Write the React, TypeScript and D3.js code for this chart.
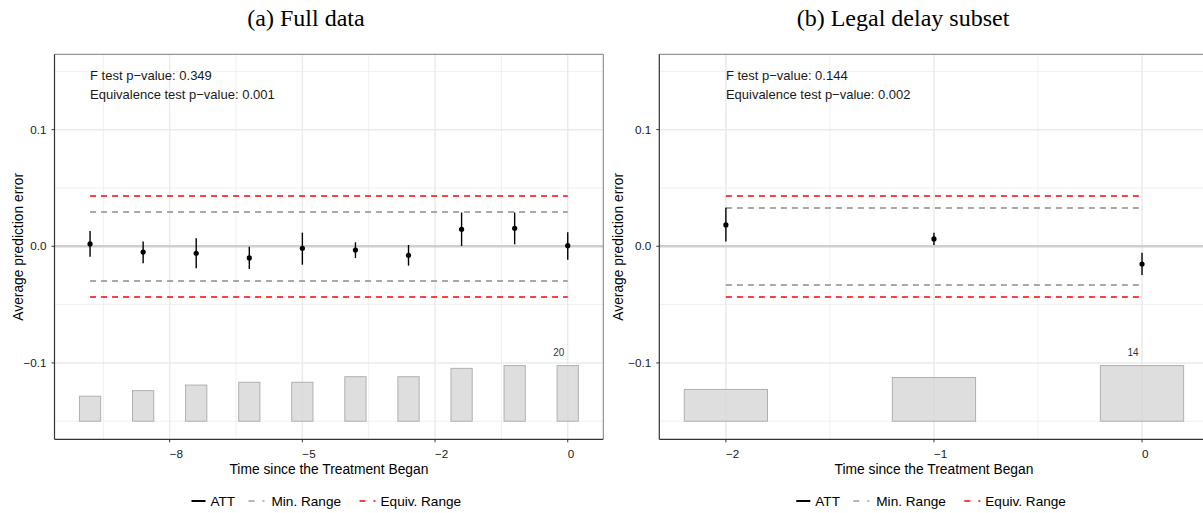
import * as d3 from 'd3'

// full data panel
const fullIndex = [1, 2, 3, 4, 5, 6, 7, 8, 9, 10]
const fullAtt = [0.002, -0.005, -0.006, -0.01, -0.0017, -0.0032, -0.0077, 0.0146, 0.0154, 0.0005]
const fullLower = [-0.009, -0.0146, -0.0189, -0.0195, -0.0158, -0.01, -0.0166, 0.0003, 0.0017, -0.0115]
const fullUpper = [0.013, 0.004, 0.0069, -0.0003, 0.0117, 0.0034, 0.0011, 0.029, 0.029, 0.012]
const fullCounts = [9, 11, 13, 14, 14, 16, 16, 19, 20, 20]
const fullTicks = [2.5, 5, 7.5, 10]
const fullTickLabels = ['−8', '−5', '−2', '0']
const fullMinorX = [1.25, 3.75, 6.25, 8.75]

// legal delay subset panel
const subIndex = [1, 2, 3]
const subAtt = [0.0183, 0.0063, -0.0152]
const subLower = [0.004, 0.0011, -0.0246]
const subUpper = [0.033, 0.0117, -0.0055]
const subCounts = [8, 11, 14]
const subTicks = [1, 2, 3]
const subTickLabels = ['−2', '−1', '0']
const subMinorX = [1.5, 2.5]

const yTicks = [-0.1, 0, 0.1]
const yTickLabels = ['−0.1', '0.0', '0.1']
const yMinor = [-0.15, -0.05, 0.05, 0.15]

const legendItems = ['ATT', 'Min. Range', 'Equiv. Range']

const sans = 'Liberation Sans, Arial, Helvetica, sans-serif'
const top = 54.3
const bottom = 439.3
const barBase = -0.15
const barMaxHeight = 0.0477

const yScale = d3.scaleLinear().domain([-0.1655, 0.1646]).range([bottom, top])

type PanelProps = {
  title: string
  titleX: number
  yTitleGap: number
  left: number
  right: number
  domain: [number, number]
  index: number[]
  att: number[]
  lower: number[]
  upper: number[]
  counts: number[]
  ticks: number[]
  tickLabels: string[]
  minorX: number[]
  equiv: number
  minRange: number
  fTest: string
  eqTest: string
}

const Panel = (p: PanelProps) => {
  const x = d3.scaleLinear().domain(p.domain).range([p.left, p.right])
  const bw = x(1.2) - x(0.8)
  const maxCount = d3.max(p.counts) as number
  const barTop = (c: number) => barBase + (c / maxCount) * barMaxHeight
  const first = p.index[0]
  const last = p.index[p.index.length - 1]
  const lastI = p.index.length - 1
  const legendX = p.left + 137
  const dashes = [
    { v: p.minRange, c: '#8c8c8c' },
    { v: -p.minRange, c: '#8c8c8c' },
    { v: p.equiv, c: '#ff0000' },
    { v: -p.equiv, c: '#ff0000' },
  ]
  return (
    <g>
      <text x={p.titleX} y={26} textAnchor="middle" fontFamily="Liberation Serif, Times New Roman, serif" fontSize={24}>
        {p.title}
      </text>
      {/* grid */}
      {yMinor.map((v) => (
        <line key={'ym' + v} x1={p.left} x2={p.right} y1={yScale(v)} y2={yScale(v)} stroke="#f0f0f0" strokeWidth={1} />
      ))}
      {p.minorX.map((v) => (
        <line key={'xm' + v} x1={x(v)} x2={x(v)} y1={top} y2={bottom} stroke="#f0f0f0" strokeWidth={1} />
      ))}
      {yTicks.map((v) => (
        <line key={'yg' + v} x1={p.left} x2={p.right} y1={yScale(v)} y2={yScale(v)} stroke="#ebebeb" strokeWidth={1.5} />
      ))}
      {p.ticks.map((v) => (
        <line key={'xg' + v} x1={x(v)} x2={x(v)} y1={top} y2={bottom} stroke="#ebebeb" strokeWidth={1.5} />
      ))}
      {/* zero line */}
      <line x1={p.left} x2={p.right} y1={yScale(0)} y2={yScale(0)} stroke="#cfcfcf" strokeWidth={2.5} />
      {/* count bars */}
      {p.index.map((d, i) => (
        <rect
          key={'b' + d}
          x={x(d) - bw / 2}
          width={bw}
          y={yScale(barTop(p.counts[i]))}
          height={yScale(barBase) - yScale(barTop(p.counts[i]))}
          fill="#d6d6d6"
          fillOpacity={0.8}
          stroke="#b0b0b0"
          strokeWidth={1}
        />
      ))}
      <text
        x={x(last) - 9}
        y={yScale(barTop(p.counts[lastI])) - 10}
        textAnchor="middle"
        fontFamily={sans}
        fontSize={10}
        fill="#333"
      >
        {p.counts[lastI]}
      </text>
      {/* range lines */}
      {dashes.map((d, i) => (
        <line
          key={'d' + i}
          x1={x(first)}
          x2={x(last)}
          y1={Math.round(yScale(d.v))}
          y2={Math.round(yScale(d.v))}
          stroke={d.c}
          strokeWidth={1.6}
          strokeDasharray="6,5"
        />
      ))}
      {/* ATT */}
      {p.index.map((d, i) => (
        <g key={'p' + d}>
          <line x1={x(d)} x2={x(d)} y1={yScale(p.lower[i])} y2={yScale(p.upper[i])} stroke="#000" strokeWidth={1.4} />
          <circle cx={x(d)} cy={yScale(p.att[i])} r={2.6} fill="#000" />
        </g>
      ))}
      {/* annotations */}
      <text x={x(first)} y={79.5} fontFamily={sans} fontSize={13} fill="#1a1a1a">
        {p.fTest}
      </text>
      <text x={x(first)} y={98.5} fontFamily={sans} fontSize={13} fill="#1a1a1a">
        {p.eqTest}
      </text>
      {/* border */}
      <line x1={p.left} x2={p.right} y1={top} y2={top} stroke="#7f7f7f" strokeWidth={1} />
      <line x1={p.right} x2={p.right} y1={top} y2={bottom} stroke="#7f7f7f" strokeWidth={1} />
      <line x1={p.left} x2={p.left} y1={top} y2={bottom} stroke="#333" strokeWidth={1.2} />
      <line x1={p.left} x2={p.right} y1={bottom} y2={bottom} stroke="#333" strokeWidth={1.2} />
      {/* y axis */}
      {yTicks.map((v, i) => (
        <g key={'yt' + v}>
          <line x1={p.left - 3} x2={p.left} y1={yScale(v)} y2={yScale(v)} stroke="#333" />
          <text x={p.left - 8} y={yScale(v) + 4.2} textAnchor="end" fontFamily={sans} fontSize={11.7} fill="#1a1a1a">
            {yTickLabels[i]}
          </text>
        </g>
      ))}
      <text
        transform={`translate(${p.left - p.yTitleGap}, ${(top + bottom) / 2}) rotate(-90)`}
        textAnchor="middle"
        fontFamily={sans}
        fontSize={13.8}
        fill="#000"
      >
        Average prediction error
      </text>
      {/* x axis */}
      {p.ticks.map((v, i) => (
        <g key={'xt' + v}>
          <line x1={x(v)} x2={x(v)} y1={bottom} y2={bottom + 3} stroke="#333" />
          <text x={x(v)} y={bottom + 19} textAnchor="start" fontFamily={sans} fontSize={11.7} fill="#1a1a1a">
            {p.tickLabels[i]}
          </text>
        </g>
      ))}
      <text x={(p.left + p.right) / 2} y={474} textAnchor="middle" fontFamily={sans} fontSize={13.8} fill="#000">
        Time since the Treatment Began
      </text>
      {/* legend */}
      <g transform={`translate(${legendX}, 501)`} fontFamily={sans} fontSize={13.6}>
        <line x1={0} x2={14} y1={0} y2={0} stroke="#000" strokeWidth={2} />
        <text x={19} y={4.5}>{legendItems[0]}</text>
        <line x1={57} x2={73} y1={0} y2={0} stroke="#a0a0a0" strokeWidth={1.6} strokeDasharray="6,8" />
        <text x={80} y={4.5}>{legendItems[1]}</text>
        <line x1={168} x2={184} y1={0} y2={0} stroke="#ff0000" strokeWidth={1.6} strokeDasharray="6,8" />
        <text x={189} y={4.5}>{legendItems[2]}</text>
      </g>
    </g>
  )
}

const App = () => {
  return (
    <svg
      width={1203}
      height={513}
      style={{ position: 'absolute', left: 0, top: 0, display: 'block', background: '#fff' }}
    >
      <Panel
        title="(a) Full data"
        titleX={306}
        yTitleGap={32}
        left={54.5}
        right={603.3}
        domain={[0.33, 10.67]}
        index={fullIndex}
        att={fullAtt}
        lower={fullLower}
        upper={fullUpper}
        counts={fullCounts}
        ticks={fullTicks}
        tickLabels={fullTickLabels}
        minorX={fullMinorX}
        equiv={0.0435}
        minRange={0.0295}
        fTest="F test p−value: 0.349"
        eqTest="Equivalence test p−value: 0.001"
      />
      <Panel
        title="(b) Legal delay subset"
        titleX={903}
        yTitleGap={36}
        left={659.3}
        right={1208.6}
        domain={[0.68, 3.32]}
        index={subIndex}
        att={subAtt}
        lower={subLower}
        upper={subUpper}
        counts={subCounts}
        ticks={subTicks}
        tickLabels={subTickLabels}
        minorX={subMinorX}
        equiv={0.0435}
        minRange={0.033}
        fTest="F test p−value: 0.144"
        eqTest="Equivalence test p−value: 0.002"
      />
    </svg>
  )
}

export default App
